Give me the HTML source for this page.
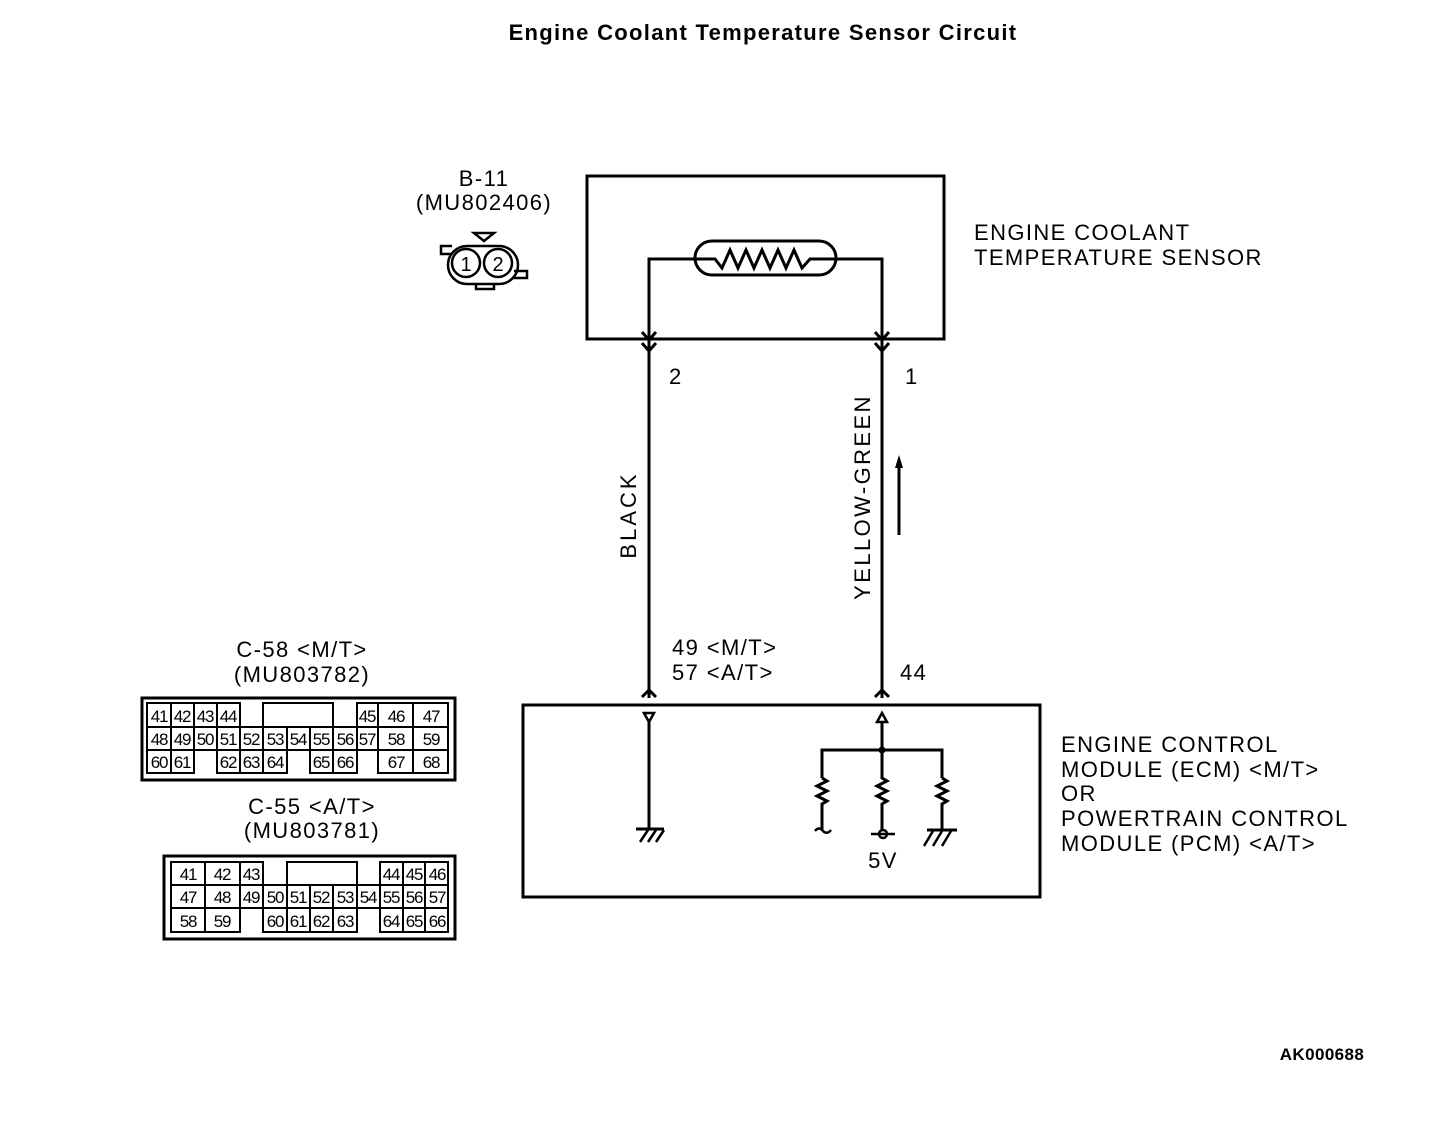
<!DOCTYPE html>
<html><head><meta charset="utf-8"><style>
html,body{margin:0;padding:0;background:#fff;}
svg{display:block;}
text{font-family:"Liberation Sans",sans-serif;fill:#000;}
.l{font-size:22px;letter-spacing:1.4px;}
.c{font-size:17px;letter-spacing:-1.2px;}
</style></head><body>
<svg width="1440" height="1126" viewBox="0 0 1440 1126" xmlns="http://www.w3.org/2000/svg">
<text x="763" y="40" text-anchor="middle" style="font-size:22px;font-weight:bold;letter-spacing:1.3px">Engine Coolant Temperature Sensor Circuit</text>

<g fill="none" stroke="#000" stroke-width="3">
<rect x="587" y="176" width="357" height="163"/>
<rect x="695" y="241" width="141" height="34" rx="17"/>
<polyline points="649,340 649,259 715,259 722,268 730,250 738,268 746,250 754,268 762,250 770,268 778,250 786,268 794,250 802,268 810,259 882,259 882,340"/>
<line x1="649" y1="339" x2="649" y2="698"/>
<line x1="882" y1="339" x2="882" y2="698"/>
<polyline points="642,332 649,340 656,332"/>
<polyline points="642,343 649,351 656,343"/>
<polyline points="875,332 882,340 889,332"/>
<polyline points="875,343 882,351 889,343"/>
<polyline points="642,697 649,690 656,697"/>
<polyline points="875,697 882,690 889,697"/>
<rect x="523" y="705" width="517" height="192"/>
<polygon points="644,713 654,713 649,722" stroke-width="2.5"/>
<line x1="649" y1="722" x2="649" y2="829"/>
<line x1="636" y1="829" x2="664" y2="829"/>
<polygon points="877,722 887,722 882,713" stroke-width="2.5"/>
<line x1="882" y1="722" x2="882" y2="750"/>
<polyline points="822,778 822,750 942,750 942,778"/>
<polyline points="822,778 827,781 817,786 827,791 817,796 827,801 822,804 822,830"/>
<polyline points="882,750 882,778 887,781 877,786 887,791 877,796 887,801 882,804 882,830"/>
<polyline points="942,778 947,781 937,786 947,791 937,796 947,801 942,804 942,830"/>
<path d="M815,831 q4,-5 8,0 q4,4 8,-1" stroke-width="2.5"/>
<circle cx="883" cy="834" r="4" stroke-width="2.5"/>
<line x1="871" y1="834" x2="895" y2="834" stroke-width="2.5"/>
<line x1="927" y1="830" x2="957" y2="830"/>
<line x1="899" y1="535" x2="899" y2="465"/>
<rect x="448" y="246" width="70" height="38" rx="19" stroke-width="2.5"/>
<circle cx="466" cy="263" r="14" stroke-width="2.5"/>
<circle cx="498" cy="263" r="14" stroke-width="2.5"/>
<polyline points="452,254 441,254 441,246 452,246" stroke-width="2.5"/>
<polyline points="514,271 527,271 527,278 514,278" stroke-width="2.5"/>
<polyline points="476,284 476,289 494,289 494,284" stroke-width="2.5"/>
<polygon points="474,233 494,233 484,241" stroke-width="2.5"/>
</g>
<g stroke="#000" stroke-width="2.5">
<line x1="640" y1="842" x2="648" y2="830"/><line x1="648" y1="842" x2="656" y2="830"/><line x1="656" y1="842" x2="664" y2="830"/>
<line x1="924" y1="846" x2="933" y2="831"/><line x1="933" y1="846" x2="942" y2="831"/><line x1="942" y1="846" x2="951" y2="831"/>
</g>
<circle cx="882" cy="750" r="3.5" fill="#000"/>
<polygon points="899,455 895,468 903,468" fill="#000"/>

<text x="466" y="271" text-anchor="middle" style="font-size:20px">1</text>
<text x="498" y="271" text-anchor="middle" style="font-size:20px">2</text>

<text class="l" x="484" y="186" text-anchor="middle">B-11</text>
<text class="l" x="484" y="210" text-anchor="middle">(MU802406)</text>
<text class="l" x="974" y="240">ENGINE COOLANT</text>
<text class="l" x="974" y="265">TEMPERATURE SENSOR</text>
<text class="l" x="669" y="384">2</text>
<text class="l" x="905" y="384">1</text>
<text class="l" transform="translate(636,515) rotate(-90)" text-anchor="middle" style="letter-spacing:3px">BLACK</text>
<text class="l" transform="translate(870,497) rotate(-90)" text-anchor="middle" style="letter-spacing:2.4px">YELLOW-GREEN</text>
<text class="l" x="672" y="655">49 &lt;M/T&gt;</text>
<text class="l" x="672" y="680">57 &lt;A/T&gt;</text>
<text class="l" x="900" y="680">44</text>
<text class="l" x="883" y="868" text-anchor="middle">5V</text>
<text class="l" x="1061" y="752">ENGINE CONTROL</text>
<text class="l" x="1061" y="777">MODULE (ECM) &lt;M/T&gt;</text>
<text class="l" x="1061" y="801">OR</text>
<text class="l" x="1061" y="826">POWERTRAIN CONTROL</text>
<text class="l" x="1061" y="851">MODULE (PCM) &lt;A/T&gt;</text>
<text class="l" x="302" y="657" text-anchor="middle">C-58 &lt;M/T&gt;</text>
<text class="l" x="302" y="682" text-anchor="middle">(MU803782)</text>
<text class="l" x="312" y="814" text-anchor="middle">C-55 &lt;A/T&gt;</text>
<text class="l" x="312" y="838" text-anchor="middle">(MU803781)</text>
<text x="1322" y="1060" text-anchor="middle" style="font-size:17px;font-weight:bold;letter-spacing:0.4px">AK000688</text>

<rect x="142" y="698" width="313" height="82" fill="none" stroke="#000" stroke-width="3"/>
<g fill="none" stroke="#000" stroke-width="2">
<rect x="147" y="703" width="24" height="24"/><rect x="171" y="703" width="23" height="24"/><rect x="194" y="703" width="23" height="24"/><rect x="217" y="703" width="23" height="24"/>
<rect x="263" y="703" width="70" height="24"/>
<rect x="357" y="703" width="21" height="24"/><rect x="378" y="703" width="35" height="24"/><rect x="413" y="703" width="35" height="24"/>
<rect x="147" y="727" width="24" height="23"/><rect x="171" y="727" width="23" height="23"/><rect x="194" y="727" width="23" height="23"/><rect x="217" y="727" width="23" height="23"/><rect x="240" y="727" width="23" height="23"/><rect x="263" y="727" width="24" height="23"/><rect x="287" y="727" width="23" height="23"/><rect x="310" y="727" width="23" height="23"/><rect x="333" y="727" width="24" height="23"/><rect x="357" y="727" width="21" height="23"/><rect x="378" y="727" width="35" height="23"/><rect x="413" y="727" width="35" height="23"/>
<rect x="147" y="750" width="24" height="23"/><rect x="171" y="750" width="23" height="23"/><rect x="217" y="750" width="23" height="23"/><rect x="240" y="750" width="23" height="23"/><rect x="263" y="750" width="24" height="23"/><rect x="310" y="750" width="23" height="23"/><rect x="333" y="750" width="24" height="23"/><rect x="378" y="750" width="35" height="23"/><rect x="413" y="750" width="35" height="23"/>
</g>
<g class="c" text-anchor="middle">
<text x="159" y="722">41</text><text x="182" y="722">42</text><text x="205" y="722">43</text><text x="228" y="722">44</text><text x="367" y="722">45</text><text x="396" y="722">46</text><text x="431" y="722">47</text>
<text x="159" y="745">48</text><text x="182" y="745">49</text><text x="205" y="745">50</text><text x="228" y="745">51</text><text x="251" y="745">52</text><text x="275" y="745">53</text><text x="298" y="745">54</text><text x="321" y="745">55</text><text x="345" y="745">56</text><text x="367" y="745">57</text><text x="396" y="745">58</text><text x="431" y="745">59</text>
<text x="159" y="768">60</text><text x="182" y="768">61</text><text x="228" y="768">62</text><text x="251" y="768">63</text><text x="275" y="768">64</text><text x="321" y="768">65</text><text x="345" y="768">66</text><text x="396" y="768">67</text><text x="431" y="768">68</text>
</g>

<rect x="164" y="856" width="291" height="83" fill="none" stroke="#000" stroke-width="3"/>
<g fill="none" stroke="#000" stroke-width="2">
<rect x="171" y="862" width="34" height="23"/><rect x="205" y="862" width="35" height="23"/><rect x="240" y="862" width="23" height="23"/>
<rect x="287" y="862" width="70" height="23"/>
<rect x="380" y="862" width="23" height="23"/><rect x="403" y="862" width="22" height="23"/><rect x="425" y="862" width="23" height="23"/>
<rect x="171" y="885" width="34" height="23"/><rect x="205" y="885" width="35" height="23"/><rect x="240" y="885" width="23" height="23"/><rect x="263" y="885" width="24" height="23"/><rect x="287" y="885" width="23" height="23"/><rect x="310" y="885" width="23" height="23"/><rect x="333" y="885" width="24" height="23"/><rect x="357" y="885" width="23" height="23"/><rect x="380" y="885" width="23" height="23"/><rect x="403" y="885" width="22" height="23"/><rect x="425" y="885" width="23" height="23"/>
<rect x="171" y="908" width="34" height="24"/><rect x="205" y="908" width="35" height="24"/><rect x="263" y="908" width="24" height="24"/><rect x="287" y="908" width="23" height="24"/><rect x="310" y="908" width="23" height="24"/><rect x="333" y="908" width="24" height="24"/><rect x="380" y="908" width="23" height="24"/><rect x="403" y="908" width="22" height="24"/><rect x="425" y="908" width="23" height="24"/>
</g>
<g class="c" text-anchor="middle">
<text x="188" y="880">41</text><text x="222" y="880">42</text><text x="251" y="880">43</text><text x="391" y="880">44</text><text x="414" y="880">45</text><text x="437" y="880">46</text>
<text x="188" y="903">47</text><text x="222" y="903">48</text><text x="251" y="903">49</text><text x="275" y="903">50</text><text x="298" y="903">51</text><text x="321" y="903">52</text><text x="345" y="903">53</text><text x="368" y="903">54</text><text x="391" y="903">55</text><text x="414" y="903">56</text><text x="437" y="903">57</text>
<text x="188" y="927">58</text><text x="222" y="927">59</text><text x="275" y="927">60</text><text x="298" y="927">61</text><text x="321" y="927">62</text><text x="345" y="927">63</text><text x="391" y="927">64</text><text x="414" y="927">65</text><text x="437" y="927">66</text>
</g>
</svg>
</body></html>
